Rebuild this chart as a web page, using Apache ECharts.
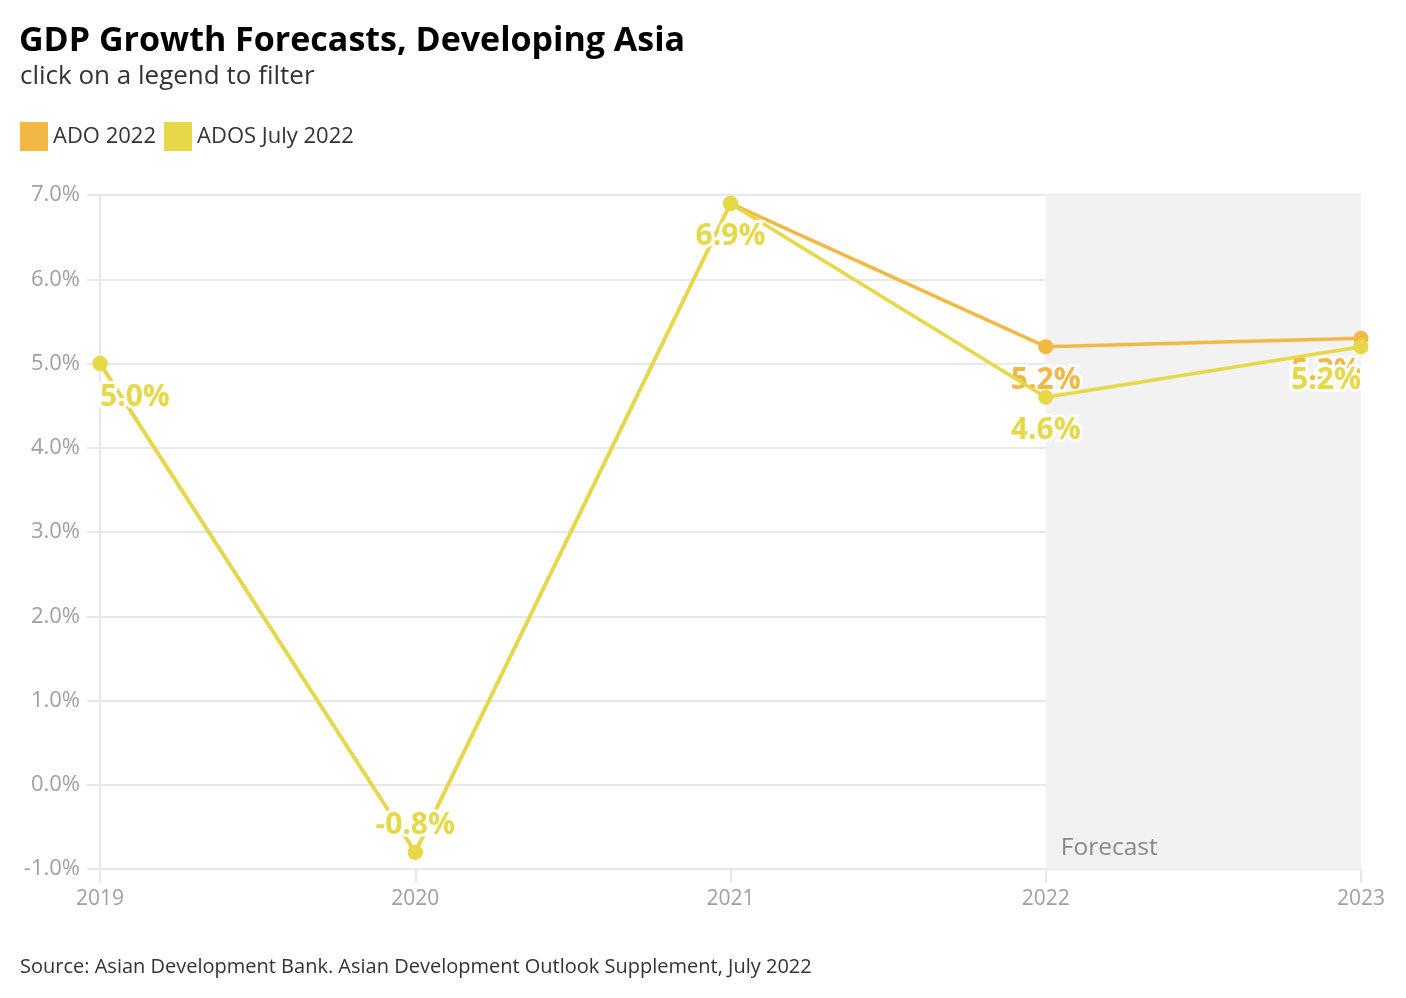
<!DOCTYPE html>
<html><head><meta charset="utf-8">
<script src="https://cdn.jsdelivr.net/npm/echarts@6/dist/echarts.min.js"></script>
<style>html,body{margin:0;padding:0;background:#fff}#c{width:1406px;height:998px}</style>
</head><body><div id="c"></div>
<script>
const years = ['2019','2020','2021','2022','2023'];
const ado2022 = [5.0, -0.8, 6.9, 5.2, 5.3];
const adosJuly2022 = [5.0, -0.8, 6.9, 4.6, 5.2];
const yTicks = [-1, 0, 1, 2, 3, 4, 5, 6, 7];
const forecastRange = ['2022', '2023'];

const FONT = 'Open Sans';
const colors = ['#f3b843', '#e6d846'];

function buildData(vals){
  return vals.map((v, i) => {
    const lab = {};
    if (i === 0) { lab.align = 'left'; }
    if (i === vals.length - 1) { lab.align = 'right'; }
    if (v < 0) { lab.position = 'top'; lab.distance = 4; }
    return {value: v, label: lab};
  });
}

const chart = echarts.init(document.getElementById('c'));
const labelBase = {
  show: true, position: 'bottom', distance: 11, color: 'inherit',
  fontFamily: FONT, fontWeight: 'bold', fontSize: 30,
  textBorderColor: '#fff', textBorderWidth: 6,
  formatter: p => p.value.toFixed(1) + '%'
};
chart.setOption({
  animation: false,
  textStyle: {fontFamily: FONT},
  title: [
    {text: 'GDP Growth Forecasts, Developing Asia', left: 19, top: 24, padding: 0,
     textStyle: {fontFamily: FONT, fontSize: 34, fontWeight: 'bold', color: '#000'}},
    {text: 'click on a legend to filter', left: 20, top: 64, padding: 0,
     textStyle: {fontFamily: FONT, fontSize: 26, fontWeight: 'normal', color: '#333'}},
    {text: 'Source: Asian Development Bank. Asian Development Outlook Supplement, July 2022', left: 20, top: 957, padding: 0,
     textStyle: {fontFamily: FONT, fontSize: 20, fontWeight: 'normal', color: '#333'}}
  ],
  legend: {
    left: 20, top: 122, itemWidth: 28, itemHeight: 29, itemGap: 8, padding: 0,
    icon: 'rect',
    textStyle: {fontFamily: FONT, fontSize: 22, color: '#333', padding: [0,0,0,0]},
    data: ['ADO 2022', 'ADOS July 2022']
  },
  color: colors,
  grid: {left: 100, right: 45, top: 195, bottom: 129, containLabel: false},
  xAxis: {
    type: 'category', data: years, boundaryGap: false,
    axisLine: {show: true, onZero: false, lineStyle: {color: '#e8e8e8', width: 2}},
    axisTick: {show: true, length: 14, lineStyle: {color: '#e8e8e8', width: 2}},
    axisLabel: {color: '#a0a0a0', fontSize: 21, fontFamily: FONT, margin: 20},
    splitLine: {show: false}
  },
  yAxis: {
    type: 'value', min: -1, max: 7, interval: 1,
    axisLine: {show: true, lineStyle: {color: '#e8e8e8', width: 2}},
    axisTick: {show: true, length: 13, lineStyle: {color: '#e8e8e8', width: 2}},
    axisLabel: {color: '#a0a0a0', fontSize: 22, fontFamily: FONT, margin: 20,
      formatter: v => yTicks.includes(v) ? v.toFixed(1) + '%' : ''},
    splitLine: {show: true, lineStyle: {color: '#e8e8e8', width: 2}}
  },
  series: [
    {
      name: 'ADO 2022', type: 'line', data: buildData(ado2022),
      symbol: 'circle', symbolSize: 15, lineStyle: {width: 3.5},
      label: labelBase,
      markArea: {
        silent: true,
        itemStyle: {color: '#f2f2f2'},
        label: {show: true, position: 'insideBottomLeft', distance: 8, offset: [7, 0],
          color: '#888', fontSize: 24.5, fontFamily: FONT, fontWeight: 'normal',
          textBorderWidth: 0, formatter: 'Forecast'},
        data: [[{name: 'Forecast', xAxis: forecastRange[0], yAxis: -1}, {xAxis: forecastRange[1], yAxis: 7}]]
      },
      z: 2
    },
    {
      name: 'ADOS July 2022', type: 'line', data: buildData(adosJuly2022),
      symbol: 'circle', symbolSize: 15, lineStyle: {width: 3.5},
      label: labelBase,
      z: 3
    }
  ]
});
</script></body></html>
